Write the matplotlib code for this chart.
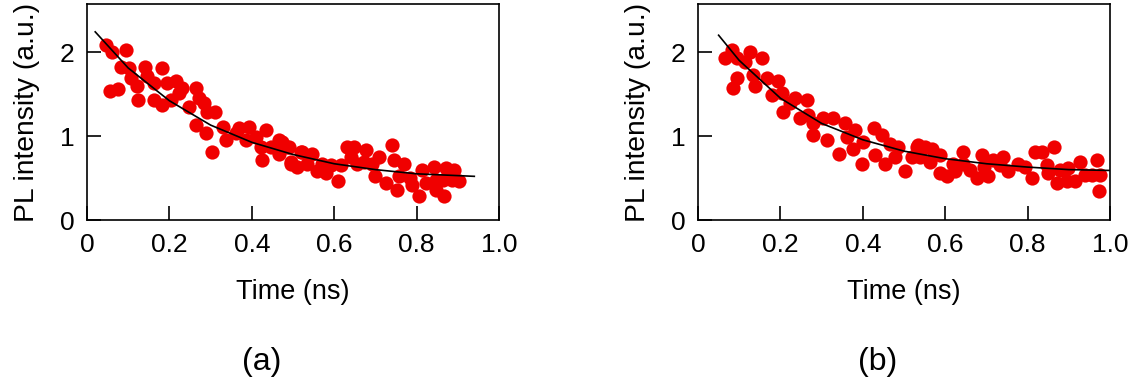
import matplotlib
matplotlib.use("Agg")
import matplotlib.pyplot as plt

plt.rcParams['font.family'] = ['Liberation Sans', 'DejaVu Sans']

# panel (a) data
t_a = [0.045, 0.061, 0.094, 0.082, 0.102, 0.057, 0.076, 0.106, 0.122, 0.125,
       0.142, 0.146, 0.163, 0.183, 0.163, 0.181, 0.195, 0.215, 0.203, 0.223,
       0.231, 0.248, 0.265, 0.272, 0.284, 0.292, 0.311, 0.264, 0.288, 0.303,
       0.329, 0.337, 0.361, 0.369, 0.393, 0.385, 0.409, 0.434, 0.422, 0.446,
       0.466, 0.486, 0.425, 0.466, 0.494, 0.519, 0.510, 0.474, 0.490, 0.494,
       0.523, 0.547, 0.535, 0.559, 0.579, 0.571, 0.591, 0.608, 0.616, 0.632,
       0.648, 0.640, 0.656, 0.676, 0.672, 0.692, 0.709, 0.700, 0.725, 0.741,
       0.745, 0.769, 0.753, 0.757, 0.785, 0.789, 0.806, 0.814, 0.822, 0.842,
       0.846, 0.846, 0.867, 0.871, 0.891, 0.887, 0.903, 0.863]
pl_a = [2.08, 2.00, 2.02, 1.82, 1.81, 1.53, 1.56, 1.69, 1.59, 1.43,
        1.82, 1.71, 1.63, 1.81, 1.43, 1.37, 1.63, 1.65, 1.43, 1.51,
        1.57, 1.35, 1.57, 1.45, 1.39, 1.29, 1.29, 1.13, 1.03, 0.81,
        1.11, 0.95, 1.03, 1.09, 1.11, 0.95, 0.99, 1.07, 0.87, 0.87,
        0.95, 0.87, 0.71, 0.79, 0.67, 0.81, 0.63, 0.93, 0.87, 0.69,
        0.81, 0.79, 0.67, 0.58, 0.56, 0.67, 0.65, 0.46, 0.65, 0.87,
        0.87, 0.75, 0.67, 0.83, 0.69, 0.67, 0.75, 0.52, 0.44, 0.89,
        0.71, 0.67, 0.36, 0.52, 0.50, 0.42, 0.28, 0.60, 0.44, 0.63,
        0.48, 0.36, 0.28, 0.62, 0.60, 0.48, 0.46, 0.48]
fit_t_a = [0.02, 0.1, 0.2, 0.3, 0.4, 0.5, 0.6, 0.7, 0.8, 0.94]
fit_pl_a = [2.24, 1.81, 1.42, 1.13, 0.925, 0.78, 0.67, 0.60, 0.55, 0.52]

# panel (b) data
t_b = [0.082, 0.066, 0.094, 0.126, 0.155, 0.114, 0.094, 0.086, 0.134, 0.138,
       0.167, 0.195, 0.179, 0.203, 0.207, 0.223, 0.235, 0.264, 0.248, 0.268,
       0.280, 0.280, 0.304, 0.328, 0.312, 0.341, 0.357, 0.361, 0.381, 0.377,
       0.397, 0.401, 0.426, 0.430, 0.446, 0.454, 0.466, 0.486, 0.478, 0.502,
       0.531, 0.519, 0.535, 0.551, 0.539, 0.567, 0.563, 0.587, 0.587, 0.604,
       0.620, 0.624, 0.644, 0.644, 0.660, 0.676, 0.689, 0.693, 0.705, 0.717,
       0.733, 0.741, 0.753, 0.777, 0.794, 0.810, 0.818, 0.834, 0.863, 0.846,
       0.850, 0.871, 0.879, 0.899, 0.895, 0.915, 0.927, 0.939, 0.968, 0.976,
       0.972, 0.956]
pl_b = [2.02, 1.93, 1.93, 2.00, 1.93, 1.88, 1.69, 1.57, 1.73, 1.59,
        1.69, 1.65, 1.49, 1.51, 1.29, 1.39, 1.45, 1.43, 1.21, 1.25,
        1.15, 1.01, 1.21, 1.21, 0.95, 0.79, 1.15, 0.99, 1.07, 0.85,
        0.67, 0.93, 1.09, 0.77, 1.01, 0.67, 0.91, 0.87, 0.75, 0.58,
        0.87, 0.75, 0.89, 0.87, 0.75, 0.85, 0.69, 0.77, 0.56, 0.52,
        0.67, 0.58, 0.81, 0.67, 0.60, 0.50, 0.77, 0.63, 0.52, 0.71,
        0.65, 0.75, 0.58, 0.67, 0.63, 0.50, 0.81, 0.81, 0.87, 0.65,
        0.56, 0.44, 0.60, 0.62, 0.46, 0.46, 0.69, 0.54, 0.71, 0.54,
        0.34, 0.54]
fit_t_b = [0.05, 0.1, 0.2, 0.3, 0.4, 0.5, 0.6, 0.7, 0.8, 0.9, 1.0]
fit_pl_b = [2.20, 1.90, 1.45, 1.15, 0.955, 0.82, 0.73, 0.67, 0.63, 0.60, 0.59]

xticks = [0, 0.2, 0.4, 0.6, 0.8, 1.0]
xticklabels = ["0", "0.2", "0.4", "0.6", "0.8", "1.0"]
yticks = [0, 1, 2]

fig = plt.figure(figsize=(11.37, 3.89), dpi=100)
ax_a = fig.add_axes([0.0765, 0.4344, 0.3624, 0.555])
ax_b = fig.add_axes([0.6139, 0.4344, 0.3624, 0.555])

for ax, t, pl, ft, fpl, lab, cx in [(ax_a, t_a, pl_a, fit_t_a, fit_pl_a, "(a)", 262),
                                    (ax_b, t_b, pl_b, fit_t_b, fit_pl_b, "(b)", 878)]:
    ax.scatter(t, pl, s=105, color="#f00000", linewidths=0, zorder=2)
    ax.plot(ft, fpl, color="black", lw=1.2, zorder=3)
    ax.set_xlim(0, 1.0)
    ax.set_ylim(0, 2.57)
    ax.set_xticks(xticks)
    ax.set_xticklabels(xticklabels)
    ax.set_yticks(yticks)
    ax.tick_params(direction="in", length=10, width=1.2, labelsize=19, pad=9)
    for s in ax.spines.values():
        s.set_linewidth(1.2)
    ax.set_xlabel("Time (ns)", fontsize=19.5, labelpad=16)
    ax.set_ylabel("PL intensity (a.u.)", fontsize=20.3, labelpad=14)
    fig.text(cx / 1137, 1 - 362 / 389, lab, fontsize=23, ha="center", va="center")

fig.savefig("out.png", dpi=100)
